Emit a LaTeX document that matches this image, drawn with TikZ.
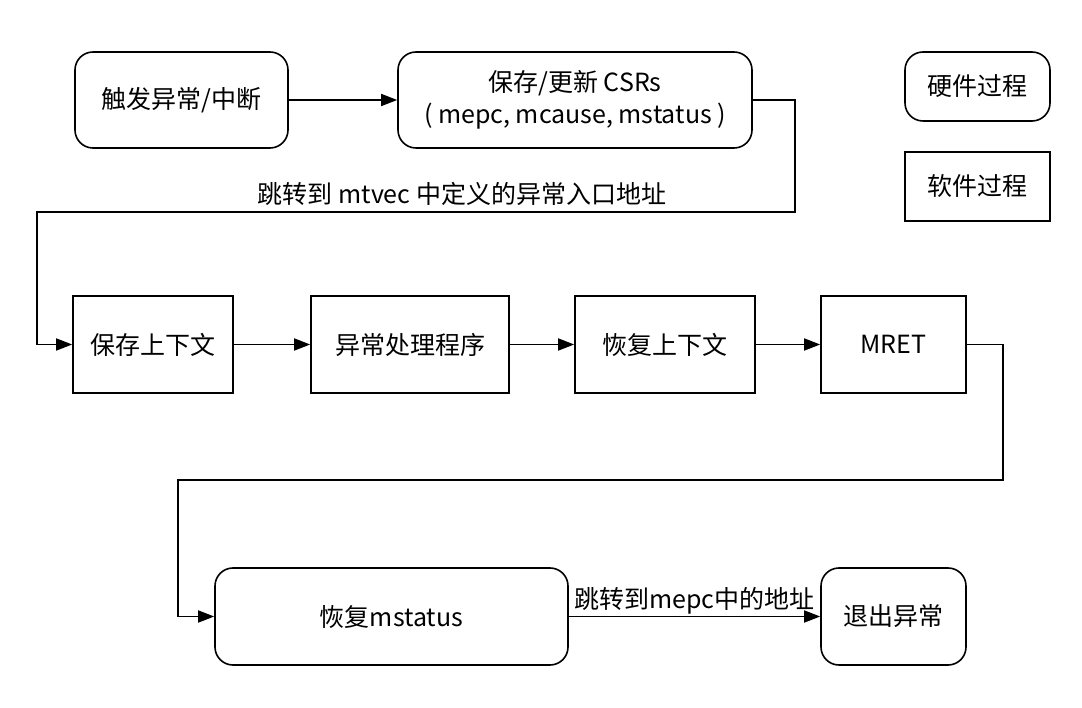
\documentclass[tikz,border=0pt]{standalone}
\usepackage{fontspec}
\setmainfont{Noto Sans CJK SC}
\usetikzlibrary{arrows.meta}
\tikzset{
  proc/.style={draw, line width=1.6pt, rounded corners=18pt, align=center, inner sep=0pt},
  soft/.style={draw, line width=1.6pt, align=center, inner sep=0pt},
  flow/.style={line width=1.6pt, -{Triangle[length=16pt,width=12pt]}},
}
\begin{document}
\begin{tikzpicture}[x=1pt, y=-1pt, font=\fontsize{25}{32}\selectfont]
      \useasboundingbox (0,0) rectangle (1082,708);

      \node[proc, minimum width=213pt, minimum height=96pt] (trig) at (181.5,100) {触发异常/中断};
      \node[proc, minimum width=354pt, minimum height=96pt] (csr) at (575,100) {保存/更新 CSRs\\( mepc, mcause, mstatus )};
      \node[proc, minimum width=145pt, minimum height=69pt] (hw) at (977.5,86.5) {硬件过程};
      \node[soft, minimum width=145pt, minimum height=69pt] (sw) at (977.5,186.5) {软件过程};

      \node[soft, minimum width=160pt, minimum height=97pt] (save) at (153,344.5) {保存上下文};
      \node[soft, minimum width=198pt, minimum height=97pt] (handler) at (410,344.5) {异常处理程序};
      \node[soft, minimum width=180pt, minimum height=97pt] (restore) at (665,344.5) {恢复上下文};
      \node[soft, minimum width=145pt, minimum height=97pt] (mret) at (893.5,344.5) {MRET};

      \node[proc, minimum width=353pt, minimum height=97pt] (mst) at (391.5,616.5) {恢复mstatus};
      \node[proc, minimum width=145pt, minimum height=97pt] (exit) at (893.5,616.5) {退出异常};

      \coordinate (c1) at (795,212);
      \coordinate (c2) at (37,212);
      \coordinate (c3) at (1003,480);
      \coordinate (c4) at (178,480);

      \draw[flow] (trig) -- (csr);
      \draw[flow] (csr.east) -| (c1) -- (c2) |- (save.west);
      \node (jump) at (462,194) {跳转到 mtvec 中定义的异常入口地址};

      \draw[flow] (save) -- (handler);
      \draw[flow] (handler) -- (restore);
      \draw[flow] (restore) -- (mret);

      \draw[flow] (mret.east) -| (c3) -- (c4) |- (mst.west);
      \draw[flow] (mst) -- node[above, yshift=-2pt] {跳转到mepc中的地址} (exit);
    \end{tikzpicture}
\end{document}
